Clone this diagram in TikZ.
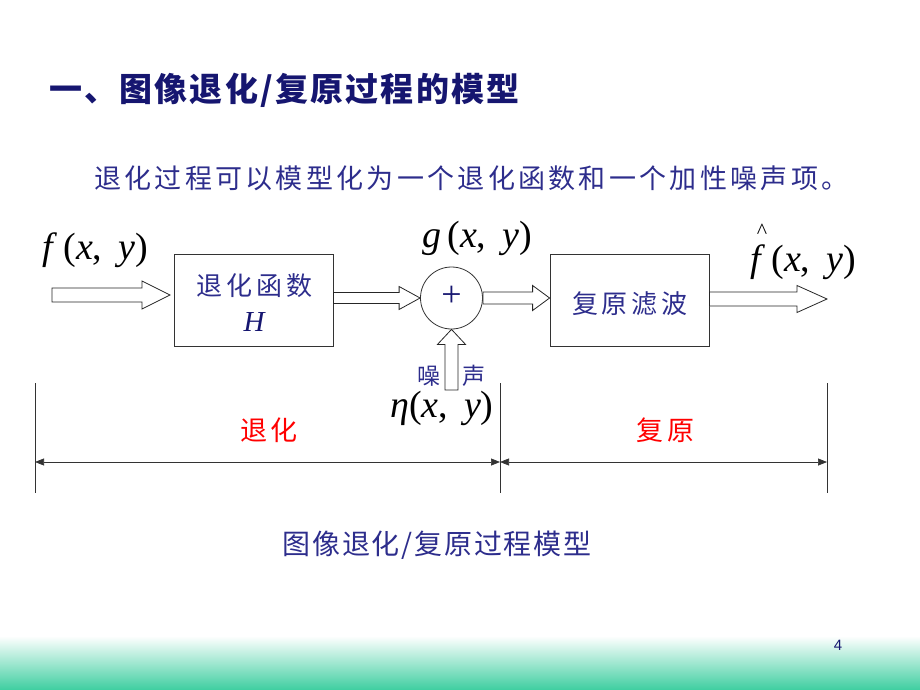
\documentclass[tikz,border=0pt]{standalone}
\usepackage{fontspec}
\setmainfont{Liberation Serif}
\newfontfamily\cjk{Noto Sans CJK SC}
\newfontfamily\arialf{Liberation Sans}
\usetikzlibrary{calc,arrows.meta}
\definecolor{navy}{RGB}{22,22,112}
\definecolor{txtblue}{RGB}{45,45,140}
\definecolor{mint}{RGB}{62,206,160}
\definecolor{palemint}{RGB}{218,244,234}
\newcommand\spaced[2]{\def\spgap{#1}\spfirst#2\relax}
\def\spfirst#1{#1\spacedloop}
\def\spacedloop#1{\ifx\relax#1\else\hskip\spgap\relax#1\expandafter\spacedloop\fi}
\newcommand\mxy[1]{#1\,(\textit{x},\, \textit{y})}
\newcommand\harrow[5]{%
  \draw[blk] let \p1=(#1), \p2=(#2) in
    (\x1,\y1+#3) -- (\x2-#5,\y1+#3) -- (\x2-#5,\y1+#4) -- (\x2,\y1)
    -- (\x2-#5,\y1-#4) -- (\x2-#5,\y1-#3) -- (\x1,\y1-#3) -- cycle;}
\tikzset{
  blk/.style={draw=black!85, line width=0.8pt, fill=white, line join=miter},
  boxs/.style={draw=black!80, line width=0.8pt, minimum width=159pt, minimum height=92pt, inner sep=0pt},
  dimline/.style={draw=black!80, line width=0.7pt},
  dimarrow/.style={draw=black!80, line width=0.7pt, {Triangle[length=9pt,width=7pt]}-{Triangle[length=9pt,width=7pt]}},
  mathlbl/.style={inner sep=0pt, font=\fontsize{38}{42}\selectfont},
  cjkblue/.style={inner sep=0pt, text=txtblue, font=\cjk\fontsize{26}{28}\selectfont},
  redlbl/.style={inner sep=0pt, text=red, font=\cjk\fontsize{27}{28}\selectfont},
}
\begin{document}
\begin{tikzpicture}[x=1pt,y=-1pt]
\useasboundingbox (0,0) rectangle (920,690);
% bottom gradient
\shade[top color=white, middle color=palemint, bottom color=mint, draw=none] (0,636) rectangle (920,690);
% title
\node[anchor=west, inner sep=0pt, text=navy, font=\cjk\bfseries\fontsize{33}{36}\selectfont] (title) at (49,90)
  {\spaced{2.2pt}{一、图像退化/复原过程的模型}};
% subtitle
\node[anchor=west, cjkblue, font=\cjk\fontsize{27}{30}\selectfont] (sub) at (94,178)
  {\spaced{3.3pt}{退化过程可以模型化为一个退化函数和一个加性噪声项。}};
% blocks
\node[boxs] (b1) at (253.5,300) {};
\node[cjkblue] (b1t) at (254.5,286) {\spaced{4pt}{退化函数}};
\node[inner sep=0pt, text=navy, font=\fontsize{29}{30}\selectfont\itshape] (b1h) at (254,322) {H};
\node[circle, draw=black!80, line width=0.8pt, minimum size=62pt, inner sep=0pt] (c) at (451.5,298) {};
\node[inner sep=0pt, text=navy, font=\fontsize{36}{36}\selectfont] (plus) at (451.5,296) {+};
\node[boxs] (b3) at (629.5,300) {};
\node[cjkblue] (b3t) at (630,304) {\spaced{4pt}{复原滤波}};
% coordinates
\coordinate (in) at (52,295);
\coordinate (intip) at (170,295);
\coordinate (out) at (827,299);
\coordinate (nz) at (451.5,390);
% block arrows
\harrow{in}{intip}{7pt}{14pt}{28pt}
\harrow{b1.east |- c.west}{c.west}{5.5pt}{11.5pt}{21pt}
\harrow{c.east}{b3.west |- c.east}{6pt}{12.5pt}{17pt}
\harrow{b3.east |- out}{out}{7pt}{13.5pt}{30pt}
\draw[blk] let \p1=(nz), \p2=(c.south) in
  (\x1-6.5pt,\y1) -- (\x1-6.5pt,\y2-15pt) -- (\x1-14pt,\y2-15pt) -- (\x2,\y2)
  -- (\x1+14pt,\y2-15pt) -- (\x1+6.5pt,\y2-15pt) -- (\x1+6.5pt,\y1) -- cycle;
% math labels
\node[mathlbl] (fin) at (95,250) {\mxy{\textit{f}}};
\node[mathlbl] (g) at (477,238) {\mxy{\textit{g}}};
\node[mathlbl] (fout) at (803,262) {\mxy{\textit{f}}};
\node[inner sep=0pt, font=\fontsize{22}{22}\selectfont] (hat) at (762,231) {\^{}};
\node[mathlbl] (eta) at (442,408) {\textit{η}(\textit{x},\, \textit{y})};
\node[inner sep=0pt, text=txtblue, font=\cjk\fontsize{23}{24}\selectfont] (n1) at (429,376) {噪};
\node[inner sep=0pt, text=txtblue, font=\cjk\fontsize{23}{24}\selectfont] (n2) at (474,376) {声};
% dimension lines
\coordinate (l1t) at (35,383); \coordinate (l1b) at (35,493);
\coordinate (l2t) at (500,383); \coordinate (l2b) at (500,493);
\coordinate (l3t) at (827,383); \coordinate (l3b) at (827,493);
\draw[dimline] (l1t) -- (l1b);
\draw[dimline] (l2t) -- (l2b);
\draw[dimline] (l3t) -- (l3b);
\coordinate (a1) at (35,462); \coordinate (a2) at (500,462); \coordinate (a3) at (827,462);
\draw[dimarrow] (a1) -- (a2);
\draw[dimarrow] (a2) -- (a3);
\node[redlbl] (deg) at (269,430) {\spaced{4pt}{退化}};
\node[redlbl] (res) at (665,430) {\spaced{4pt}{复原}};
% caption
\node[inner sep=0pt, text=txtblue, font=\cjk\fontsize{28}{30}\selectfont] (cap) at (437,545) {\spaced{1.8pt}{图像退化/复原过程模型}};
% page number
\node[inner sep=0pt, text=navy, font=\arialf\fontsize{15}{16}\selectfont] (pg) at (838,645) {4};
\end{tikzpicture}
\end{document}
